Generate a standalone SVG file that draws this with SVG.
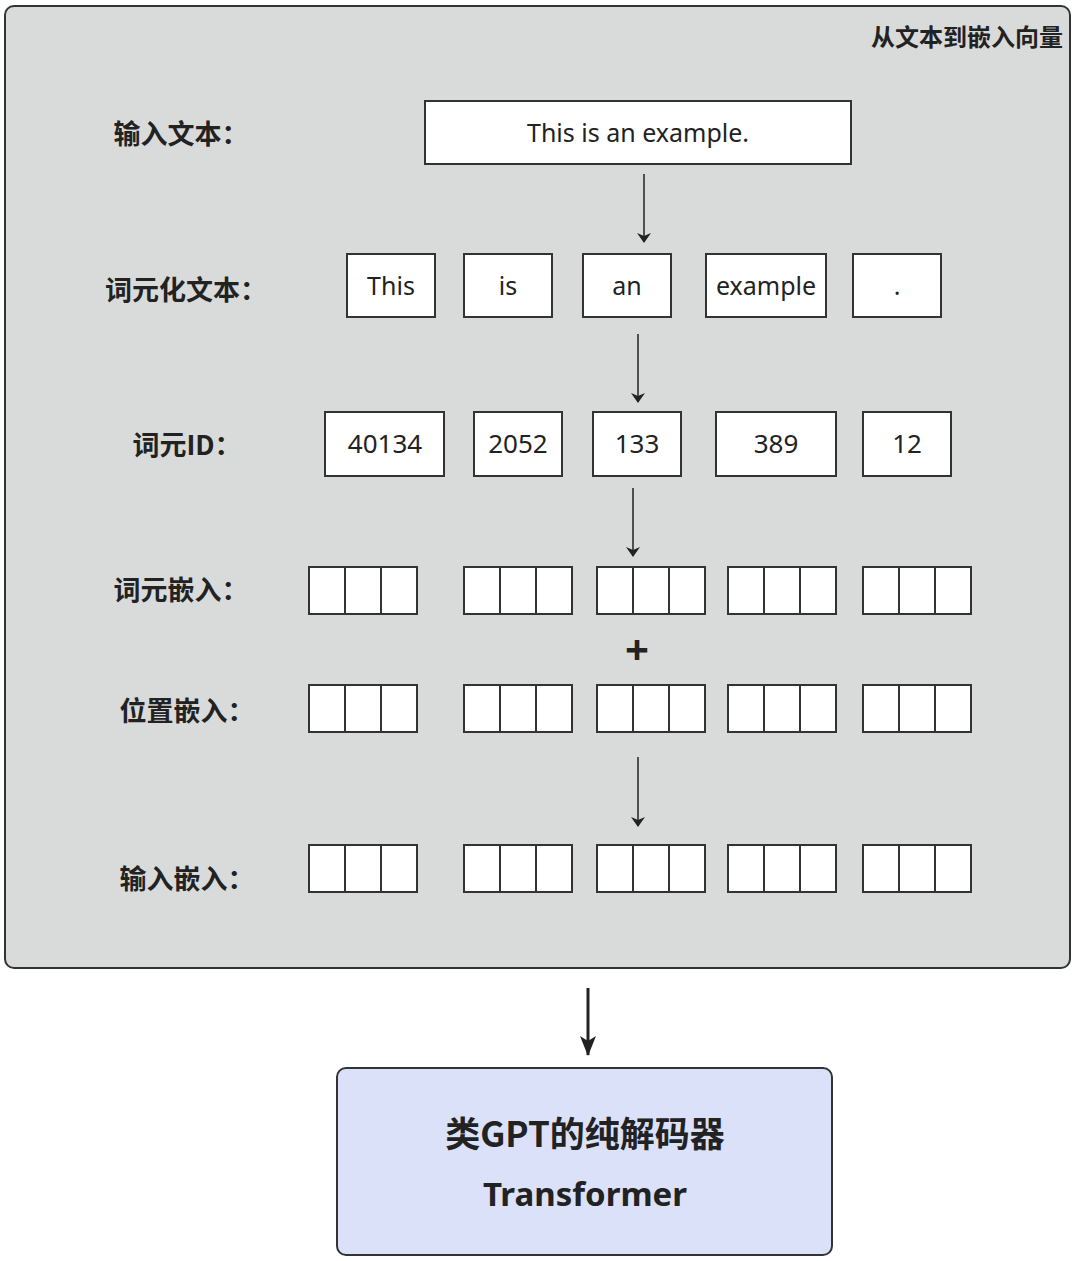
<svg xmlns="http://www.w3.org/2000/svg" width="1080" height="1261" viewBox="0 0 1080 1261">
<defs>
<style>
.box{fill:#fff;stroke:#333;stroke-width:2}
.lbl{font-family:"Noto Sans CJK SC","Noto Sans",sans-serif;font-weight:bold;font-size:27px;fill:#222;text-anchor:middle;dominant-baseline:central}
.t{font-family:"Noto Sans","Noto Sans CJK SC",sans-serif;font-size:25px;fill:#222;text-anchor:middle;dominant-baseline:central}
.n{font-family:"Noto Sans","Noto Sans CJK SC",sans-serif;font-size:26px;fill:#222;text-anchor:middle;dominant-baseline:central}
.conn{stroke:#222;stroke-width:1.5;fill:none}
.conn-thick{stroke:#222;stroke-width:3;fill:none}
</style>
<marker id="ah" markerWidth="10" markerHeight="14" refX="9" refY="7" orient="auto" markerUnits="userSpaceOnUse">
<path d="M0,0 L10,7 L0,14 L3,7 Z" fill="#222"/>
</marker>
<marker id="ah2" markerWidth="20" markerHeight="16" refX="19" refY="8" orient="auto" markerUnits="userSpaceOnUse">
<path d="M0,0 L20,8 L0,16 L5,8 Z" fill="#222"/>
</marker>
<g id="vec">
<rect x="0" y="0" width="36" height="47" class="box"/>
<rect x="36" y="0" width="36" height="47" class="box"/>
<rect x="72" y="0" width="36" height="47" class="box"/>
</g>
</defs>
<rect width="1080" height="1261" fill="#fff"/>
<g id="container">
<rect x="5" y="6" width="1065" height="962" rx="9" fill="#d9dbda" stroke="#333" stroke-width="2"/>
<text x="1063" y="35" font-family="'Noto Sans CJK SC',sans-serif" font-weight="bold" font-size="24" fill="#222" text-anchor="end" dominant-baseline="central">从文本到嵌入向量</text>
</g>
<g id="labels">
<text class="lbl" x="181" y="132">输入文本：</text>
<text class="lbl" x="186" y="288">词元化文本：</text>
<text class="lbl" x="187" y="443">词元ID：</text>
<text class="lbl" x="181" y="588">词元嵌入：</text>
<text class="lbl" x="187" y="709">位置嵌入：</text>
<text class="lbl" x="187" y="877">输入嵌入：</text>
</g>
<g id="input-text">
<rect x="425" y="101" width="426" height="63" class="box"/>
<text class="t" x="638" y="132">This is an example.</text>
</g>
<g id="tokens">
<g id="tok-this"><rect x="347" y="254" width="88" height="63" class="box"/><text class="t" x="391" y="285">This</text></g>
<g id="tok-is"><rect x="464" y="254" width="88" height="63" class="box"/><text class="t" x="508" y="285">is</text></g>
<g id="tok-an"><rect x="583" y="254" width="88" height="63" class="box"/><text class="t" x="627" y="285">an</text></g>
<g id="tok-example"><rect x="706" y="254" width="120" height="63" class="box"/><text class="t" x="766" y="285">example</text></g>
<g id="tok-dot"><rect x="853" y="254" width="88" height="63" class="box"/><text class="t" x="897" y="285">.</text></g>
</g>
<g id="ids">
<g id="id-40134"><rect x="325" y="412" width="119" height="64" class="box"/><text class="n" x="385" y="443">40134</text></g>
<g id="id-2052"><rect x="474" y="412" width="88" height="64" class="box"/><text class="n" x="518" y="443">2052</text></g>
<g id="id-133"><rect x="593" y="412" width="88" height="64" class="box"/><text class="n" x="637" y="443">133</text></g>
<g id="id-389"><rect x="716" y="412" width="120" height="64" class="box"/><text class="n" x="776" y="443">389</text></g>
<g id="id-12"><rect x="863" y="412" width="88" height="64" class="box"/><text class="n" x="907" y="443">12</text></g>
</g>
<g id="token-embeddings">
<use href="#vec" x="309" y="567"/>
<use href="#vec" x="464" y="567"/>
<use href="#vec" x="597" y="567"/>
<use href="#vec" x="728" y="567"/>
<use href="#vec" x="863" y="567"/>
</g>
<g id="plus">
<text x="637" y="648" font-family="'Noto Sans',sans-serif" font-weight="bold" font-size="42" fill="#222" text-anchor="middle" dominant-baseline="central">+</text>
</g>
<g id="position-embeddings">
<use href="#vec" x="309" y="685"/>
<use href="#vec" x="464" y="685"/>
<use href="#vec" x="597" y="685"/>
<use href="#vec" x="728" y="685"/>
<use href="#vec" x="863" y="685"/>
</g>
<g id="input-embeddings">
<use href="#vec" x="309" y="845"/>
<use href="#vec" x="464" y="845"/>
<use href="#vec" x="597" y="845"/>
<use href="#vec" x="728" y="845"/>
<use href="#vec" x="863" y="845"/>
</g>
<g id="decoder">
<rect x="337" y="1068" width="495" height="187" rx="9" fill="#dae1f8" stroke="#333" stroke-width="2"/>
<text x="585" y="1131" font-family="'Noto Sans CJK SC',sans-serif" font-weight="bold" font-size="35" fill="#222" text-anchor="middle" dominant-baseline="central">类GPT的纯解码器</text>
<text x="585" y="1193" font-family="'Noto Sans','Noto Sans CJK SC',sans-serif" font-weight="bold" font-size="33" fill="#222" text-anchor="middle" dominant-baseline="central">Transformer</text>
</g>
<g id="connectors">
<line class="conn" x1="644" y1="174" x2="644" y2="242" marker-end="url(#ah)"/>
<line class="conn" x1="638" y1="334" x2="638" y2="402" marker-end="url(#ah)"/>
<line class="conn" x1="633" y1="488" x2="633" y2="556" marker-end="url(#ah)"/>
<line class="conn" x1="638" y1="757" x2="638" y2="826" marker-end="url(#ah)"/>
<line class="conn-thick" x1="588" y1="988" x2="588" y2="1055" marker-end="url(#ah2)"/>
</g>
</svg>
